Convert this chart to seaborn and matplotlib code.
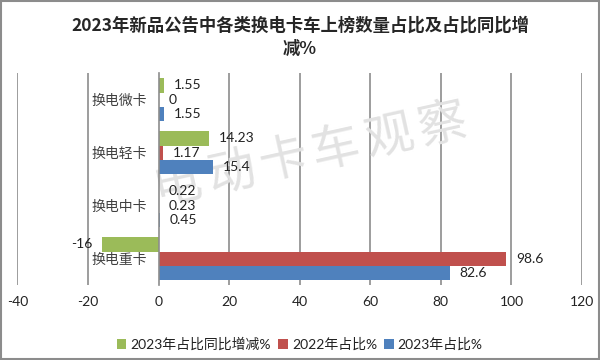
import numpy as np
import pandas as pd
import seaborn as sns
import matplotlib.pyplot as plt
from matplotlib.patches import Rectangle

# 数据
categories = ['换电微卡', '换电轻卡', '换电中卡', '换电重卡']
series_names = ['2023年占比同比增减%', '2022年占比%', '2023年占比%']
yoy_change = [1.55, 14.23, 0.22, -16]
share_2022 = [0, 1.17, 0.23, 98.6]
share_2023 = [1.55, 15.4, 0.45, 82.6]
x_ticks = [-40, -20, 0, 20, 40, 60, 80, 100, 120]

colors = ['#9BBB59', '#C0504D', '#4F81BD']

df = pd.DataFrame({
    'cat': categories * 3,
    'series': [series_names[0]] * 4 + [series_names[1]] * 4 + [series_names[2]] * 4,
    'value': yoy_change + share_2022 + share_2023,
})

sns.set_style('white')
plt.rcParams['font.family'] = ['Lato', 'Noto Sans CJK SC', 'DejaVu Sans']

fig = plt.figure(figsize=(6, 3.6), dpi=100)
ax = fig.add_axes([0.029, 0.208, 0.941, 0.589])

sns.barplot(data=df, y='cat', x='value', hue='series', order=categories,
            hue_order=series_names, palette=colors, orient='h', width=0.8,
            linewidth=0, saturation=1, ax=ax, legend=True)

ax.set_xlim(-40, 120)
ax.set_xticks(x_ticks)
ax.set_xticklabels([str(t) for t in x_ticks], fontsize=10, color='#222222')
ax.tick_params(axis='x', length=0, pad=8)
ax.set_xlabel('')
ax.set_ylabel('')

# 网格线
for t in x_ticks:
    if t != 0:
        ax.axvline(t, color='#8c8c8c', lw=1.2, zorder=0)

for s in ['top', 'right', 'bottom']:
    ax.spines[s].set_visible(False)
ax.spines['left'].set_position(('data', 0))
ax.spines['left'].set_color('#8c8c8c')
ax.spines['left'].set_linewidth(1.2)
ax.tick_params(axis='y', length=0, pad=8)
for lab in ax.get_yticklabels():
    lab.set_fontfamily(['Noto Sans CJK SC'])
    lab.set_fontsize(10)
    lab.set_color('#404040')

# 数据标签
for cont in ax.containers:
    ax.bar_label(cont, fmt='%g', padding=7, fontsize=10, color='#222222')

# 水印（逐字排列，字距较大）
wm = '电动卡车观察'
ang = np.deg2rad(12.5)
cx, cy, pitch = 310, 155, 54
for i, ch in enumerate(wm):
    k = i - (len(wm) - 1) / 2
    px = cx + k * pitch * np.cos(ang)
    py = cy - k * pitch * np.sin(ang)
    ax.text(px / 600, 1 - py / 360, ch, transform=fig.transFigure,
            fontsize=35, color='#e2e2e2', rotation=12.5, ha='center', va='center',
            fontfamily=['Noto Sans CJK SC'], zorder=0.5)

# 图例
ax.legend(loc='center', bbox_to_anchor=(0.5, -0.28), ncol=3, frameon=False,
          fontsize=10, handlelength=0.7, handleheight=0.7, handletextpad=0.3,
          columnspacing=0.5, labelcolor='#222222')

fig.suptitle('2023年新品公告中各类换电卡车上榜数量占比及占比同比增\n减%',
             x=0.5, y=0.955, fontsize=12.5, fontweight='bold',
             fontfamily=['Noto Sans CJK SC'], linespacing=1.4)

# 外框
fig.patches.append(Rectangle((0.002, 0.003), 0.996, 0.994, transform=fig.transFigure,
                             fill=False, edgecolor='#8c8c8c', lw=1.5))

plt.savefig('out.png', dpi=100)
plt.close()
